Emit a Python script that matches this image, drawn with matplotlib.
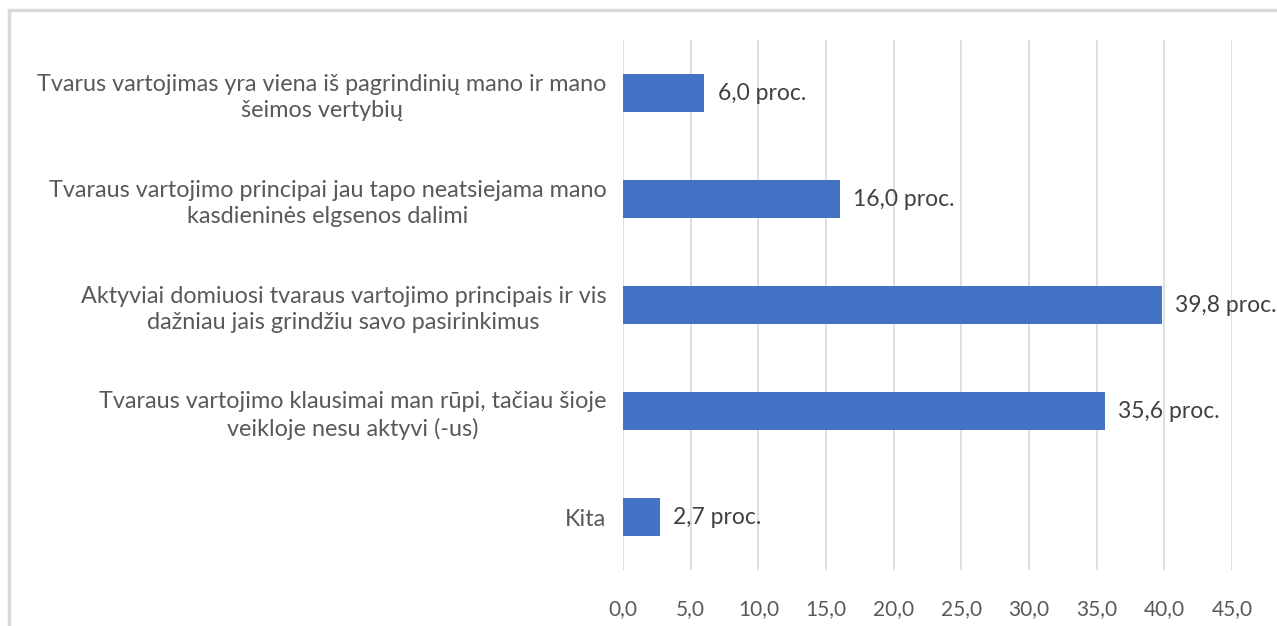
import matplotlib.pyplot as plt
from matplotlib.patches import Rectangle

categories = [
    "Tvarus vartojimas yra viena iš pagrindinių mano ir mano\nšeimos vertybių",
    "Tvaraus vartojimo principai jau tapo neatsiejama mano\nkasdieninės elgsenos dalimi",
    "Aktyviai domiuosi tvaraus vartojimo principais ir vis\ndažniau jais grindžiu savo pasirinkimus",
    "Tvaraus vartojimo klausimai man rūpi, tačiau šioje\nveikloje nesu aktyvi (-us)",
    "Kita",
]
values = [6.0, 16.0, 39.8, 35.6, 2.7]
xticks = [0, 5, 10, 15, 20, 25, 30, 35, 40, 45]

plt.rcParams["font.family"] = ["Lato", "DejaVu Sans"]

fig = plt.figure(figsize=(12.77, 6.26), dpi=100)
fig.patches.append(Rectangle((9 / 1277, -0.1), 1.2, 1 - 10 / 626 + 0.1,
                             transform=fig.transFigure, fill=False,
                             edgecolor="#D9D9D9", linewidth=2.5))
ax = fig.add_axes([623 / 1277, 1 - 570 / 626, (1232 - 623) / 1277, 530 / 626])

ypos = list(range(len(categories)))
ax.barh(ypos, values, height=0.36, color="#4472C4", zorder=3)
for y, v in zip(ypos, values):
    ax.text(v + 1.0, y, f"{v:.1f}".replace(".", ",") + " proc.",
            va="center", ha="left", fontsize=16.5, color="#404040", zorder=4)

ax.set_ylim(len(categories) - 0.5, -0.5)
ax.set_xlim(0, 45)
ax.set_xticks(xticks)
ax.set_xticklabels([f"{t:.1f}".replace(".", ",") for t in xticks])
ax.set_yticks(ypos)
ax.set_yticklabels(categories, multialignment="center", linespacing=1.28,
                   fontsize=16.8)
ax.grid(axis="x", color="#D9D9D9", linewidth=1.2, zorder=0)
for s in ax.spines.values():
    s.set_visible(False)
ax.tick_params(axis="both", length=0, colors="#595959")
ax.tick_params(axis="x", pad=21, labelsize=15)
ax.tick_params(axis="y", pad=12)

plt.savefig("out.png", dpi=100)
